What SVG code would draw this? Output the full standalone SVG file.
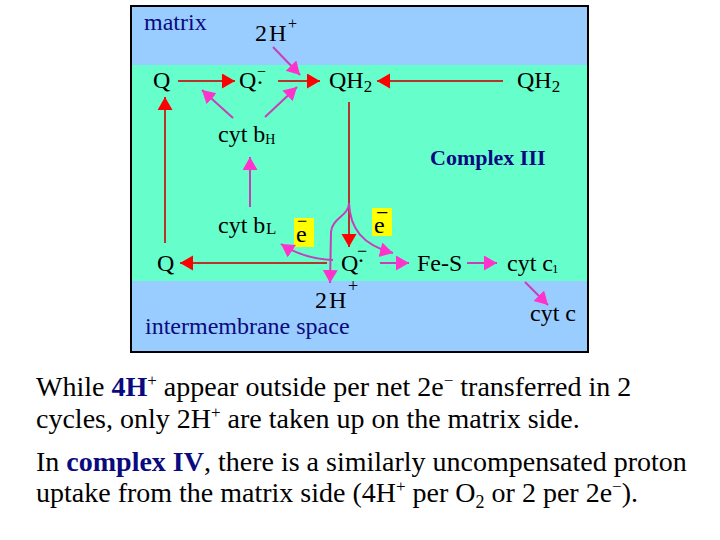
<svg xmlns="http://www.w3.org/2000/svg" width="720" height="540" viewBox="0 0 720 540">
<style>
text{font-family:"Liberation Serif","Times New Roman",serif;font-size:24px;fill:#000}
.navy{fill:#0a0a80}
.bold{font-weight:bold}
.cap{font-size:28px}
.rl{stroke:#b5352a;stroke-width:2;fill:none;marker-end:url(#ar)}
.ml{stroke:#c63fb8;stroke-width:2;fill:none;marker-end:url(#am)}
</style>
<defs>
<marker id="ar" markerUnits="userSpaceOnUse" markerWidth="14" markerHeight="16" refX="13" refY="7.5" orient="auto"><path d="M0,0 L13,7.5 L0,15 z" fill="#ff0000"/></marker>
<marker id="am" markerUnits="userSpaceOnUse" markerWidth="14" markerHeight="16" refX="13" refY="7.5" orient="auto"><path d="M0,0 L13,7.5 L0,15 z" fill="#ff33cc"/></marker>
</defs>
<rect width="720" height="540" fill="#fff"/>
<g id="panel">
<rect x="131" y="6" width="457" height="59" fill="#99ccff"/>
<rect x="131" y="65" width="457" height="216" fill="#66ffcc"/>
<rect x="131" y="281" width="457" height="71" fill="#99ccff"/>
<rect x="131" y="6" width="457" height="346" fill="none" stroke="#000" stroke-width="2"/>
</g>
<g id="labels">
<text id="matrix" class="navy" x="144" y="30">matrix</text>
<text id="ims" class="navy" x="145" y="334">intermembrane space</text>
<text id="complex3" class="navy bold" x="430" y="165" style="font-size:22px">Complex III</text>
</g>
<g id="yellow">
<rect x="294" y="218" width="20" height="29" fill="#ffff00"/>
<rect x="372" y="208" width="20" height="28" fill="#ffff00"/>
</g>
<g id="connectors">
<line class="rl" x1="178" y1="81" x2="235" y2="81"/>
<line class="rl" x1="278" y1="81" x2="320" y2="81"/>
<line class="rl" x1="503" y1="81" x2="377" y2="81"/>
<line class="rl" x1="165" y1="243" x2="165" y2="97"/>
<line class="rl" x1="349" y1="102" x2="349" y2="247"/>
<line class="rl" x1="327" y1="263" x2="180" y2="263"/>
<line class="ml" x1="273" y1="47" x2="300" y2="75"/>
<line class="ml" x1="233" y1="118" x2="202" y2="90"/>
<line class="ml" x1="265" y1="117" x2="297" y2="87"/>
<line class="ml" x1="250" y1="207" x2="250" y2="157"/>
<path class="ml" d="M349,203 C349,216 332,218 331,232 L330,283"/>
<path class="ml" d="M349,203 C350,228 362,245 393,253"/>
<path class="ml" d="M333,260 C312,259 296,254 281,244"/>
<line class="ml" x1="380" y1="263" x2="409" y2="263"/>
<line class="ml" x1="467" y1="263" x2="497" y2="263"/>
<line class="ml" x1="525" y1="282" x2="548" y2="305"/>
</g>
<g id="n-2h-top"><text x="255" y="41">2<tspan x="269">H</tspan><tspan x="288" y="29" style="font-size:16px">+</tspan></text></g>
<g id="n-q1"><text x="153" y="88">Q</text></g>
<g id="n-qsemi1"><text x="239" y="88">Q<tspan x="256" y="90">·</tspan><tspan x="257" y="77" style="font-size:16px">−</tspan></text></g>
<g id="n-qh2a"><text x="329" y="88">QH<tspan y="92" style="font-size:17px">2</tspan></text></g>
<g id="n-qh2b"><text x="517" y="88">QH<tspan y="92" style="font-size:17px">2</tspan></text></g>
<g id="n-cytbh"><text x="218" y="142">cyt b<tspan y="144" style="font-size:14px">H</tspan></text></g>
<g id="n-cytbl"><text x="218" y="233">cyt b<tspan x="266" y="234" style="font-size:17px">L</tspan></text></g>
<g id="n-e1"><text x="296" y="242">e<tspan x="297" y="227" style="font-size:18px">−</tspan></text></g>
<g id="n-e2"><text x="374" y="233">e<tspan x="376" y="220" style="font-size:22px">−</tspan></text></g>
<g id="n-q2"><text x="157" y="271">Q</text></g>
<g id="n-qsemi2"><text x="341" y="271">Q<tspan x="357" y="268">·</tspan><tspan x="357" y="257" style="font-size:18px">−</tspan></text></g>
<g id="n-fes"><text x="417" y="271">Fe-S</text></g>
<g id="n-cytc1"><text x="507" y="271">cyt c<tspan x="552" y="273" style="font-size:13px">1</tspan></text></g>
<g id="n-2h-bot"><text x="315" y="308">2<tspan x="329">H</tspan><tspan x="348" y="292" style="font-size:18px">+</tspan></text></g>
<g id="n-cytc"><text x="530" y="321">cyt c</text></g>
<g id="caption">
<text class="cap" x="36" y="396">While <tspan class="navy bold">4H</tspan><tspan dy="-10" style="font-size:17px">+</tspan><tspan dy="10"> appear outside per net 2e</tspan><tspan dy="-10" style="font-size:17px">−</tspan><tspan dy="10"> transferred in 2</tspan></text>
<text class="cap" x="36" y="428">cycles, only 2H<tspan dy="-10" style="font-size:17px">+</tspan><tspan dy="10"> are taken up on the matrix side.</tspan></text>
<text class="cap" x="36" y="471">In <tspan class="navy bold">complex IV</tspan>, there is a similarly uncompensated proton</text>
<text class="cap" x="36" y="502">uptake from the matrix side (4H<tspan dy="-10" style="font-size:17px">+</tspan><tspan dy="10"> per O</tspan><tspan dy="6" style="font-size:18px">2</tspan><tspan dy="-6"> or 2 per 2e</tspan><tspan dy="-10" style="font-size:17px">−</tspan><tspan dy="10">).</tspan></text>
</g>
</svg>
